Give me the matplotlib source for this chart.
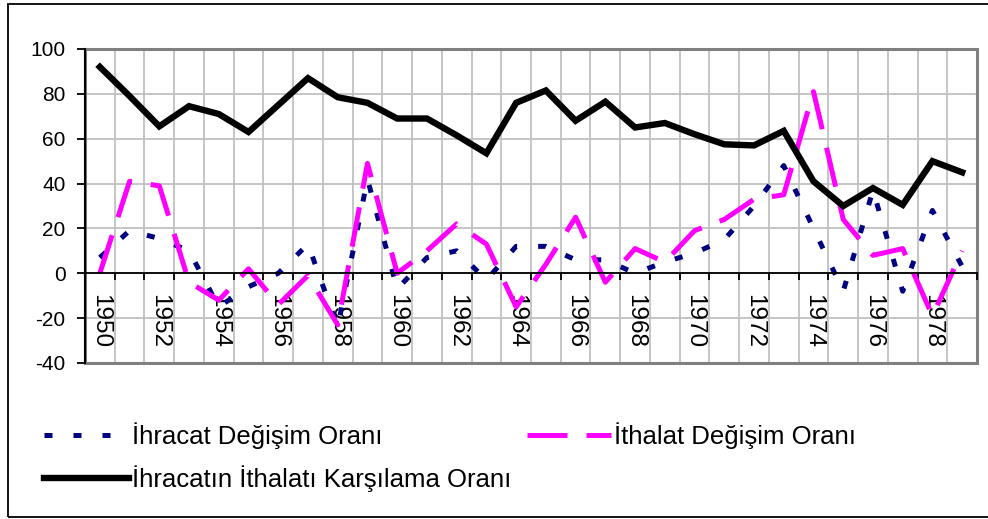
import numpy as np
import matplotlib
matplotlib.use("Agg")
import matplotlib.pyplot as plt
from matplotlib.patches import Rectangle

plt.rcParams['font.family'] = ['Liberation Sans', 'DejaVu Sans']
plt.rcParams['axes.unicode_minus'] = False

years = list(range(1950, 1980))
ihracat = [7, 19, 15.5, 10, -15, -6, 0, 13, -24, 42, -7, 7, 10, -3, 12,
           12, 6, 6, 0, 5, 9, 15, 30, 48, 20, -8, 37, -8, 28, 3]
ithalat = [0, 41, 39, -4, -12, 2, -14, -1, -23, 49, 0, 10, 22, 13, -15,
           4, 25, -4, 11, 5, 19, 24, 33, 35, 81, 24, 8, 11, -19, 10]
karsilama = [92, 79, 65.5, 74.5, 71, 63, 75, 87, 78.5, 76, 69, 69, 61.5, 53.5, 76,
             81.5, 68, 76.5, 65, 67, 62, 57.5, 57, 63.5, 41, 30, 38, 30.5, 50, 45]
labels = ['İhracat Değişim Oranı', 'İthalat Değişim Oranı',
          'İhracatın İthalatı Karşılama Oranı']

fig = plt.figure(figsize=(9.88, 5.19), dpi=100)
ax = fig.add_axes([0.086, 0.3006, 0.9029, 0.605])

x = np.arange(len(years))
l1, = ax.plot(x, ihracat, color='#000080', lw=3.6, linestyle=(0, (1.6, 4.2)),
              dash_capstyle='butt')
l2, = ax.plot(x, ithalat, color='#FF00FF', lw=3.6, linestyle=(0, (8, 3.8)),
              dash_capstyle='butt')
l3, = ax.plot(x, karsilama, color='black', lw=4.6, solid_joinstyle='miter')

ax.set_xlim(-0.5, len(years) - 0.5)
ax.set_ylim(-40, 100)

# grid
for b in np.arange(0.5, len(years) - 0.5):
    ax.axvline(b, color='#C0C0C0', lw=1.3, zorder=0)
for v in range(-20, 100, 20):
    ax.axhline(v, color='#C0C0C0', lw=1.3, zorder=0)

ax.set_yticks(range(-40, 101, 20))
ax.tick_params(axis='y', length=6, width=1.3, direction='out', labelsize=15, pad=8)

ax.spines['bottom'].set_position(('data', 0))
ax.spines['bottom'].set_linewidth(1.3)
ax.spines['left'].set_linewidth(1.5)
ax.spines['top'].set_visible(False)
ax.spines['right'].set_visible(False)
ax.add_patch(Rectangle((0, 0), 1, 1, transform=ax.transAxes, fill=False,
                       edgecolor='#808080', lw=2.2, zorder=1, clip_on=False))
ax.axvline(-0.5, color='black', lw=1.5, zorder=3)

ax.set_xticks(np.arange(0.5, len(years)))
ax.set_xticklabels([])
ax.tick_params(axis='x', which='major', length=5, width=1.3, direction='out')
ax.set_xticks(x[::2], minor=True)
ax.set_xticklabels([str(y) for y in years[::2]], minor=True, rotation=-90,
                   fontsize=17.5)
ax.tick_params(axis='x', which='minor', length=0, pad=15)

fig.legend([l1, l3, l2], [labels[0], labels[2], labels[1]], ncol=2,
           loc='upper left', bbox_to_anchor=(0.045, 1 - 422 / 519),
           frameon=False, fontsize=18.5, handlelength=3.3, handletextpad=0.1,
           columnspacing=0.6, labelspacing=0.66, borderpad=0, borderaxespad=0)

fig.add_artist(Rectangle((8 / 988, 2 / 519), 1.0, 1 - 6 / 519,
                         transform=fig.transFigure, fill=False,
                         edgecolor='black', lw=1.3))

fig.savefig('out.png', dpi=100)
